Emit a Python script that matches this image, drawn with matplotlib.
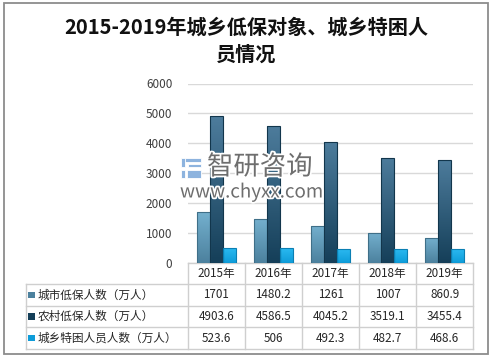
import matplotlib
matplotlib.use("Agg")
import matplotlib.pyplot as plt
import matplotlib.patheffects as pe
import numpy as np
from matplotlib.transforms import blended_transform_factory
from matplotlib.colors import LinearSegmentedColormap
from matplotlib.patches import Rectangle

plt.rcParams['font.family'] = ['Noto Sans CJK SC', 'DejaVu Sans']

title = "2015-2019年城乡低保对象、城乡特困人\n员情况"
years = ["2015年", "2016年", "2017年", "2018年", "2019年"]
series_names = ["城市低保人数（万人）", "农村低保人数（万人）", "城乡特困人员人数（万人）"]
city = [1701, 1480.2, 1261, 1007, 860.9]
rural = [4903.6, 4586.5, 4045.2, 3519.1, 3455.4]
special = [523.6, 506, 492.3, 482.7, 468.6]
table_text = [["1701", "1480.2", "1261", "1007", "860.9"],
              ["4903.6", "4586.5", "4045.2", "3519.1", "3455.4"],
              ["523.6", "506", "492.3", "482.7", "468.6"]]
yticks = [0, 1000, 2000, 3000, 4000, 5000, 6000]

W, H = 495, 357
fig = plt.figure(figsize=(W / 100, H / 100), dpi=100)
fig.patch.set_facecolor("white")

# overlay axes in pixel coords (below chart)
ov = fig.add_axes([0, 0, 1, 1], zorder=0)
ov.set_xlim(0, W)
ov.set_ylim(H, 0)
ov.axis("off")

# overlay axes in pixel coords (above chart, watermark)
top_ov = fig.add_axes([0, 0, 1, 1], zorder=5)
top_ov.set_xlim(0, W)
top_ov.set_ylim(H, 0)
top_ov.axis("off")
top_ov.patch.set_alpha(0)

# outer border
ov.add_patch(Rectangle((3.5, 2.5), 484.5, 351.5, fill=False, edgecolor="#8C8C8C", lw=1.3))

ax_l, ax_r, ax_t, ax_b = 187.7, 473.3, 83.5, 263.3
ax = fig.add_axes([ax_l / W, (H - ax_b) / H, (ax_r - ax_l) / W, (ax_b - ax_t) / H], zorder=2)
ax.patch.set_alpha(0)
ax.set_xlim(-0.5, 4.5)
ax.set_ylim(0, 6000)
ax.set_yticks(yticks)
ax.set_yticklabels([str(v) for v in yticks], fontsize=8.5, color="#404040")
ax.tick_params(axis="y", length=0, pad=11)
ax.set_xticks([])
for s in ax.spines.values():
    s.set_visible(False)
ax.grid(axis="y", color="#D9D9D9", lw=1)
ax.set_axisbelow(True)

grads = [
    ("#74B0CE", "#4C819E", "#3F6F88"),
    ("#4D7C9C", "#153F59", "#12364C"),
    ("#2CBBF2", "#0E9CD9", "#0B7FB3"),
]
series = [city, rural, special]
bw = 0.225
x = np.arange(len(years))
for k, vals in enumerate(series):
    top, bot, edge = grads[k]
    cmap = LinearSegmentedColormap.from_list("g%d" % k, [bot, top])
    for i, v in enumerate(vals):
        left = x[i] + (k - 1.5) * bw
        grad = np.linspace(0, 1, 100).reshape(-1, 1)
        im = ax.imshow(grad, cmap=cmap, aspect="auto", origin="lower",
                       extent=(left, left + bw, 0, v), zorder=2)
        r = Rectangle((left, 0), bw, v, facecolor="none", edgecolor=edge, lw=0.8, zorder=3)
        ax.add_patch(r)
        im.set_clip_path(r)
ax.set_xlim(-0.5, 4.5)
ax.set_ylim(0, 6000)

# title
ov.text(246, 27, title.split("\n")[0], ha="center", va="center", fontsize=14.5,
        fontweight="bold", color="#111111")
ov.text(246, 54, title.split("\n")[1], ha="center", va="center", fontsize=14.5,
        fontweight="bold", color="#111111")

# watermark (on top, with white halo)
halo = [pe.withStroke(linewidth=2.5, foreground="white")]
top_ov.text(207, 167, "智研咨询", ha="left", va="center", fontsize=19, color="#6E6E6E",
            path_effects=halo)
top_ov.text(180, 192, "www.chyxx.com", ha="left", va="center", fontsize=13.5, color="#6E6E6E",
            path_effects=halo)
logo_c = "#8DB3DE"
for (lx, ly, lw_, lh) in [(181, 158, 20, 4), (181, 158, 4, 9), (188, 164, 13, 3),
                          (181, 170, 4, 8), (187, 170, 14, 8)]:
    top_ov.add_patch(Rectangle((lx, ly), lw_, lh, facecolor=logo_c, edgecolor="white", lw=0.6))

# table
tr = blended_transform_factory(ax.transData, ov.transData)
row_y = [263.3, 284.0, 305.7, 327.3, 348.7]
tab_l = 25.7
lc = "#CFCFCF"
for j in range(len(years) + 1):
    ov.plot([j - 0.5, j - 0.5], [row_y[0], row_y[-1]], color=lc, lw=1, transform=tr, clip_on=False)
ov.plot([-0.5, 4.5], [row_y[0], row_y[0]], color=lc, lw=1, transform=tr, clip_on=False)
for yy in row_y[1:]:
    ov.plot([tab_l, ax_r], [yy, yy], color=lc, lw=1)
ov.plot([tab_l, tab_l], [row_y[1], row_y[-1]], color=lc, lw=1)

for i, yr in enumerate(years):
    ov.text(i, (row_y[0] + row_y[1]) / 2, yr, ha="center", va="center", fontsize=8.4,
            color="#262626", transform=tr)
for k, name in enumerate(series_names):
    yc = (row_y[k + 1] + row_y[k + 2]) / 2
    ov.add_patch(Rectangle((28.2, yc - 3.3), 6.6, 6.6, facecolor=grads[k][1], edgecolor="none"))
    ov.text(37.5, yc, name, ha="left", va="center", fontsize=8.4, color="#262626")
    for i, t in enumerate(table_text[k]):
        ov.text(i, yc, t, ha="center", va="center", fontsize=8.4, color="#262626", transform=tr)

fig.savefig("out.png", dpi=100, facecolor="white")
